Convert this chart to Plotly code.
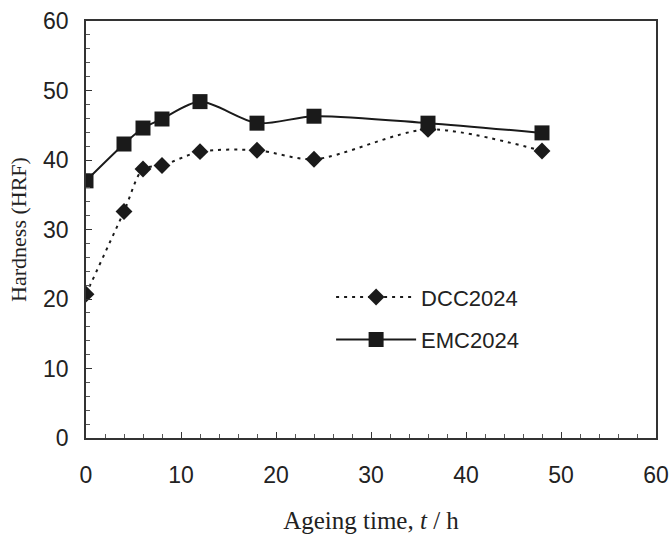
import plotly.graph_objects as go

time_h = [0, 4, 6, 8, 12, 18, 24, 36, 48]
dcc2024 = [20.7, 32.6, 38.7, 39.2, 41.2, 41.4, 40.1, 44.4, 41.3]
emc2024 = [37.0, 42.3, 44.6, 45.9, 48.4, 45.3, 46.3, 45.3, 43.9]

x_ticks = [0, 10, 20, 30, 40, 50, 60]
y_ticks = [0, 10, 20, 30, 40, 50, 60]

ink = "#1a1a1a"
sans = "Liberation Sans, Arial, sans-serif"
serif = "Liberation Serif, Times New Roman, serif"

fig = go.Figure()
fig.add_trace(go.Scatter(
    x=time_h, y=dcc2024, name="DCC2024", mode="lines+markers",
    line=dict(color=ink, width=2, dash="3px,5px", shape="spline", smoothing=0.8),
    marker=dict(symbol="diamond", size=13, color=ink),
    legendgroup="a",
))
fig.add_trace(go.Scatter(
    x=time_h, y=emc2024, name="EMC2024", mode="lines+markers",
    line=dict(color=ink, width=2, shape="spline", smoothing=0.8),
    marker=dict(symbol="square", size=15, color=ink),
    legendgroup="b",
))

axis_common = dict(
    showline=True, linecolor="#333", linewidth=1.5, mirror=True,
    showgrid=False, zeroline=False, ticks="inside", ticklen=6,
    tickcolor="#333", tickwidth=1, automargin=False,
    tickfont=dict(family=sans, size=23, color="#222"),
)

fig.update_xaxes(
    range=[0, 60], tickvals=x_ticks, ticklabelstandoff=16,
    minor=dict(dtick=2, ticks="inside", ticklen=4, tickcolor="#555"),
    title=dict(text="Ageing time, <i>t</i> / h", font=dict(family=serif, size=25, color="#222"), standoff=24),
    **axis_common,
)
fig.update_yaxes(
    range=[0, 60], tickvals=y_ticks, ticklabelstandoff=11,
    minor=dict(dtick=2, ticks="inside", ticklen=4, tickcolor="#555"),
    title=dict(text="Hardness (HRF)", font=dict(family=serif, size=22, color="#222"), standoff=10),
    **axis_common,
)

fig.update_layout(
    width=672, height=539,
    margin=dict(l=86, r=16, t=21, b=101),
    paper_bgcolor="white", plot_bgcolor="white",
    legend=dict(x=0.43, y=0.388, xanchor="left", yanchor="top",
                font=dict(family=sans, size=22, color="#222"),
                bgcolor="rgba(0,0,0,0)", tracegroupgap=11, itemwidth=80),
    showlegend=True,
)

fig.write_html("out.html")
